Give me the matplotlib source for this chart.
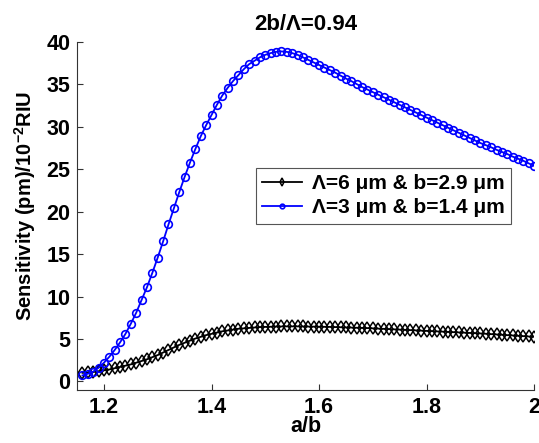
import numpy as np
import matplotlib
matplotlib.use("Agg")
import matplotlib.pyplot as plt

plt.rcParams['font.family'] = ['Liberation Sans', 'DejaVu Sans']
plt.rcParams['mathtext.fontset'] = 'custom'
plt.rcParams['mathtext.bf'] = 'Liberation Sans:bold'
plt.rcParams['mathtext.rm'] = 'Liberation Sans'

ab = [1.16, 1.17, 1.18, 1.19, 1.20, 1.21, 1.22, 1.23, 1.24, 1.25,
      1.26, 1.27, 1.28, 1.29, 1.30, 1.31, 1.32, 1.33, 1.34, 1.35,
      1.36, 1.37, 1.38, 1.39, 1.40, 1.41, 1.42, 1.43, 1.44, 1.45,
      1.46, 1.47, 1.48, 1.49, 1.50, 1.51, 1.52, 1.53, 1.54, 1.55,
      1.56, 1.57, 1.58, 1.59, 1.60, 1.61, 1.62, 1.63, 1.64, 1.65,
      1.66, 1.67, 1.68, 1.69, 1.70, 1.71, 1.72, 1.73, 1.74, 1.75,
      1.76, 1.77, 1.78, 1.79, 1.80, 1.81, 1.82, 1.83, 1.84, 1.85,
      1.86, 1.87, 1.88, 1.89, 1.90, 1.91, 1.92, 1.93, 1.94, 1.95,
      1.96, 1.97, 1.98, 1.99, 2.00]

sens_6um = [1.00, 1.05, 1.10, 1.20, 1.30, 1.40, 1.55, 1.70, 1.85, 2.00,
            2.20, 2.40, 2.60, 2.85, 3.10, 3.40, 3.70, 4.00, 4.30, 4.55,
            4.80, 5.05, 5.25, 5.45, 5.60, 5.75, 5.90, 6.00, 6.10, 6.20,
            6.25, 6.30, 6.35, 6.40, 6.42, 6.44, 6.46, 6.47, 6.48, 6.48,
            6.48, 6.47, 6.46, 6.45, 6.44, 6.43, 6.42, 6.40, 6.38, 6.36,
            6.34, 6.32, 6.30, 6.28, 6.25, 6.22, 6.19, 6.16, 6.13, 6.10,
            6.07, 6.04, 6.01, 5.98, 5.95, 5.92, 5.89, 5.86, 5.83, 5.80,
            5.77, 5.74, 5.71, 5.68, 5.65, 5.61, 5.57, 5.53, 5.49, 5.45,
            5.41, 5.37, 5.33, 5.29, 5.25]

sens_3um = [0.70, 0.90, 1.15, 1.60, 2.20, 2.90, 3.70, 4.60, 5.60, 6.80,
            8.10, 9.60, 11.10, 12.80, 14.60, 16.50, 18.50, 20.40, 22.30, 24.10,
            25.80, 27.40, 28.90, 30.20, 31.40, 32.60, 33.70, 34.60, 35.40, 36.10,
            36.80, 37.40, 37.80, 38.20, 38.50, 38.70, 38.85, 38.90, 38.85, 38.70,
            38.50, 38.20, 37.90, 37.60, 37.30, 37.00, 36.70, 36.40, 36.05, 35.70,
            35.40, 35.05, 34.70, 34.40, 34.10, 33.80, 33.50, 33.20, 32.90, 32.60,
            32.30, 32.00, 31.70, 31.40, 31.10, 30.80, 30.50, 30.20, 29.90, 29.60,
            29.30, 29.00, 28.70, 28.40, 28.10, 27.85, 27.60, 27.30, 27.05, 26.80,
            26.50, 26.25, 26.00, 25.70, 25.40]

labels = ['\u039b=6 \u03bcm & b=2.9 \u03bcm', '\u039b=3 \u03bcm & b=1.4 \u03bcm']
xticks = [1.2, 1.4, 1.6, 1.8, 2.0]
xticklabels = ['1.2', '1.4', '1.6', '1.8', '2']
yticks = [0, 5, 10, 15, 20, 25, 30, 35, 40]

fig = plt.figure(figsize=(5.39, 4.43), dpi=100)
ax = fig.add_axes([0.143, 0.12, 0.848, 0.785])

ax.plot(ab, sens_6um, color='black', lw=1.3, marker='d', ms=6.5,
        mfc='none', mec='black', mew=1.1, label=labels[0])
ax.plot(ab, sens_3um, color='blue', lw=1.3, marker='o', ms=5.5,
        mfc='none', mec='blue', mew=1.2, label=labels[1])

ax.set_xlim(1.15, 2.0)
ax.set_ylim(-1, 40)
ax.set_xticks(xticks)
ax.set_xticklabels(xticklabels)
ax.set_yticks(yticks)
ax.tick_params(direction='in', length=4, width=0.8, labelsize=15.5, colors='#333333',
               labelcolor='black', pad=5)
for lbl in ax.get_xticklabels() + ax.get_yticklabels():
    lbl.set_fontweight('bold')

for s in ['top', 'right']:
    ax.spines[s].set_visible(False)
for s in ['left', 'bottom']:
    ax.spines[s].set_color('#333333')
    ax.spines[s].set_linewidth(0.8)

ax.set_title('2b/\u039b=0.94', fontsize=16, fontweight='bold', pad=9)
ax.set_xlabel('a/b', fontsize=15.5, fontweight='bold', labelpad=-1)
ax.set_ylabel('Sensitivity (pm)/10$^{\\mathbf{-2}}$RIU', fontsize=14.5, fontweight='bold')
ax.yaxis.set_label_coords(-0.085, 0.53)

leg = ax.legend(loc='upper right', bbox_to_anchor=(0.972, 0.668),
                prop={'weight': 'bold', 'size': 15}, fancybox=False, framealpha=1,
                edgecolor='#555555', handlelength=1.9, borderpad=0.3,
                labelspacing=0.25, handletextpad=0.5, markerscale=0.6)
leg.get_frame().set_linewidth(0.8)

fig.savefig('out.png', dpi=100)
